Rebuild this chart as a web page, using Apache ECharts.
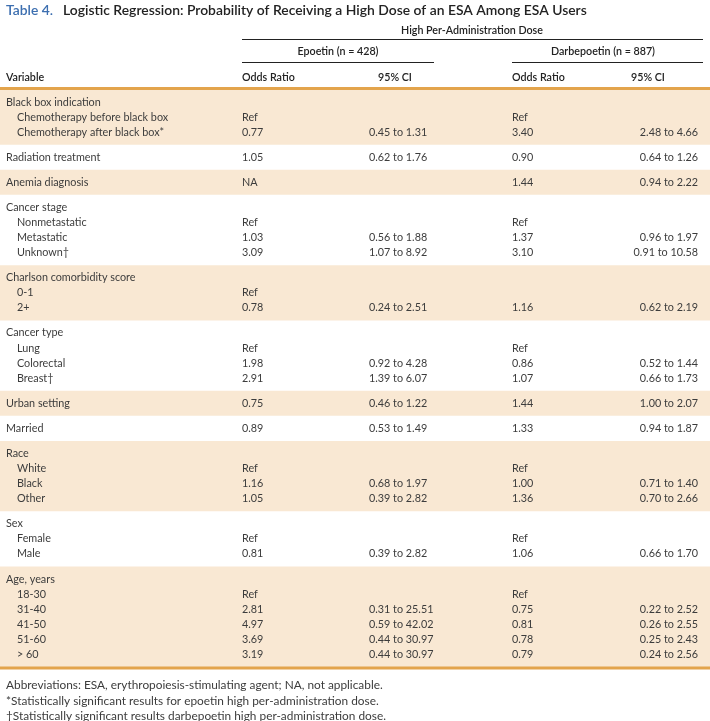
<!DOCTYPE html>
<html><head><meta charset="utf-8">
<script src="https://cdn.jsdelivr.net/npm/echarts@6/dist/echarts.min.js"></script>
<style>html,body{margin:0;padding:0;background:#fff}#c{width:710px;height:721px}</style>
</head><body><div id="c"></div>
<script>
// ---------- DATA ----------
const titleLabel = 'Table 4.';
const titleText = 'Logistic Regression: Probability of Receiving a High Dose of an ESA Among ESA Users';
const spanHeader = 'High Per-Administration Dose';
const drugHeaders = ['Epoetin (n = 428)', 'Darbepoetin (n = 887)'];
const colHeaders = ['Variable', 'Odds Ratio', '95% CI', 'Odds Ratio', '95% CI'];

const variables = [
  ['Black box indication',0],['Chemotherapy before black box',1],['Chemotherapy after black box*',1],
  ['Radiation treatment',0],
  ['Anemia diagnosis',0],
  ['Cancer stage',0],['Nonmetastatic',1],['Metastatic',1],['Unknown\u2020',1],
  ['Charlson comorbidity score',0],['0-1',1],['2+',1],
  ['Cancer type',0],['Lung',1],['Colorectal',1],['Breast\u2020',1],
  ['Urban setting',0],
  ['Married',0],
  ['Race',0],['White',1],['Black',1],['Other',1],
  ['Sex',0],['Female',1],['Male',1],
  ['Age, years',0],['18-30',1],['31-40',1],['41-50',1],['51-60',1],['> 60',1]
];
const groupSizes = [3,1,1,4,3,4,1,1,4,3,6];

const epoOR = ['','Ref','0.77','1.05','NA','','Ref','1.03','3.09','','Ref','0.78','','Ref','1.98','2.91','0.75','0.89','','Ref','1.16','1.05','','Ref','0.81','','Ref','2.81','4.97','3.69','3.19'];
const epoCI = ['','','0.45 to 1.31','0.62 to 1.76','','','','0.56 to 1.88','1.07 to 8.92','','','0.24 to 2.51','','','0.92 to 4.28','1.39 to 6.07','0.46 to 1.22','0.53 to 1.49','','','0.68 to 1.97','0.39 to 2.82','','','0.39 to 2.82','','','0.31 to 25.51','0.59 to 42.02','0.44 to 30.97','0.44 to 30.97'];
const darbOR = ['','Ref','3.40','0.90','1.44','','Ref','1.37','3.10','','','1.16','','Ref','0.86','1.07','1.44','1.33','','Ref','1.00','1.36','','Ref','1.06','','Ref','0.75','0.81','0.78','0.79'];
const darbCI = ['','','2.48 to 4.66','0.64 to 1.26','0.94 to 2.22','','','0.96 to 1.97','0.91 to 10.58','','','0.62 to 2.19','','','0.52 to 1.44','0.66 to 1.73','1.00 to 2.07','0.94 to 1.87','','','0.71 to 1.40','0.70 to 2.66','','','0.66 to 1.70','','','0.22 to 2.52','0.26 to 2.55','0.25 to 2.43','0.24 to 2.56'];

const footnotes = [
  'Abbreviations: ESA, erythropoiesis-stimulating agent; NA, not applicable.',
  '*Statistically significant results for epoetin high per-administration dose.',
  '\u2020Statistically significant results darbepoetin high per-administration dose.'
];

// ---------- LAYOUT ----------
const FONT = 'Lato';
const BODY = '10.8px ' + FONT;
const HEAD = '600 10.7px ' + FONT;
const FOOT = '11.85px ' + FONT;
const TXT = '#3c3c3c', DARK = '#222';
const BAND = '#f9e8d3', ORANGE = '#e3a44c';
const L = 15.1, P = 9.95, TOP = 89.5;
const X = {varMain: 6, varSub: 17, epoOR: 242, epoCI: 369, darbOR: 512, darbCIr: 698};

const rowY = [], bands = [];
(function(){
  let y = TOP;
  groupSizes.forEach((n, g) => {
    bands.push([0, y, 710, y + n * L + P, g % 2 === 0 ? 1 : 0]);
    for (let k = 0; k < n; k++) rowY.push(y + P / 2 + (k + 0.5) * L);
    y += n * L + P;
  });
})();
const tableBottom = bands[bands.length - 1][3];

const rules = [
  [242, 703, 39.5, 1, DARK],
  [242, 434, 62.5, 1, DARK],
  [512, 703, 62.5, 1, DARK],
  [0, 710, 88.5, 3, ORANGE],
  [0, 710, tableBottom + 1, 3, ORANGE]
];

const headerCells = [
  [472, 31, spanHeader, 'center'],
  [338, 52, drugHeaders[0], 'center'],
  [603, 52, drugHeaders[1], 'center'],
  [6, 78, colHeaders[0], 'left'],
  [242, 78, colHeaders[1], 'left'],
  [378, 78, colHeaders[2], 'left'],
  [512, 78, colHeaders[3], 'left'],
  [631, 78, colHeaders[4], 'left']
];

const footY = [tableBottom + 18.5, tableBottom + 34, tableBottom + 49];

function txt(api, x, y, s, align, font, fill) {
  const p = api.coord([x, y]);
  return {type: 'text', x: p[0], y: p[1], silent: true,
    style: {text: s, align: align, verticalAlign: 'middle', font: font, fill: fill}};
}

const chart = echarts.init(document.getElementById('c'), null, {renderer: 'canvas'});
chart.setOption({
  animation: false,
  backgroundColor: '#fff',
  title: {
    left: 6, top: 2, padding: 0,
    text: '{a|' + titleLabel + '}  {b|' + titleText + '}',
    textStyle: {rich: {
      a: {fontFamily: FONT, fontSize: 13.9, fontWeight: 600, color: '#3d6fb0'},
      b: {fontFamily: FONT, fontSize: 13.9, fontWeight: 600, color: '#222'}
    }}
  },
  grid: {left: 0, right: 0, top: 0, bottom: 0},
  xAxis: {type: 'value', min: 0, max: 710, show: false},
  yAxis: {type: 'value', min: 0, max: 721, inverse: true, show: false},
  series: [
    { type: 'custom', name: 'bands', clip: false, z: 1,
      data: bands.filter(b => b[4] === 1),
      renderItem: (params, api) => {
        const a = api.coord([api.value(0), api.value(1)]);
        const b = api.coord([api.value(2), api.value(3)]);
        return {type: 'rect', shape: {x: a[0], y: a[1], width: b[0] - a[0], height: b[1] - a[1]},
          style: {fill: BAND}};
      }
    },
    { type: 'custom', name: 'rules', clip: false, z: 3,
      data: rules.map(r => [r[0], r[1], r[2], r[3]]),
      renderItem: (params, api) => {
        const r = rules[params.dataIndex];
        const a = api.coord([r[0], r[2]]);
        const b = api.coord([r[1], r[2]]);
        return {type: 'line', shape: {x1: a[0], y1: a[1], x2: b[0], y2: b[1]},
          style: {stroke: r[4], lineWidth: r[3]}};
      }
    },
    { type: 'custom', name: 'header', clip: false, z: 4,
      data: headerCells.map(h => [h[0], h[1]]),
      renderItem: (params, api) => {
        const h = headerCells[params.dataIndex];
        return txt(api, h[0], h[1], h[2], h[3], HEAD, DARK);
      }
    },
    { type: 'custom', name: 'cells', clip: false, z: 4,
      data: rowY.map((y, i) => [0, y]),
      renderItem: (params, api) => {
        const i = params.dataIndex;
        const y = rowY[i];
        const v = variables[i];
        const kids = [
          txt(api, v[1] ? X.varSub : X.varMain, y, v[0], 'left', BODY, TXT),
          txt(api, X.epoOR, y, epoOR[i], 'left', BODY, TXT),
          txt(api, X.epoCI, y, epoCI[i], 'left', BODY, TXT),
          txt(api, X.darbOR, y, darbOR[i], 'left', BODY, TXT),
          txt(api, X.darbCIr, y, darbCI[i], 'right', BODY, TXT)
        ];
        return {type: 'group', children: kids};
      }
    },
    { type: 'custom', name: 'footnotes', clip: false, z: 4,
      data: footY.map(y => [6, y]),
      renderItem: (params, api) => txt(api, 6, footY[params.dataIndex], footnotes[params.dataIndex], 'left', FOOT, TXT)
    }
  ]
});
</script></body></html>
